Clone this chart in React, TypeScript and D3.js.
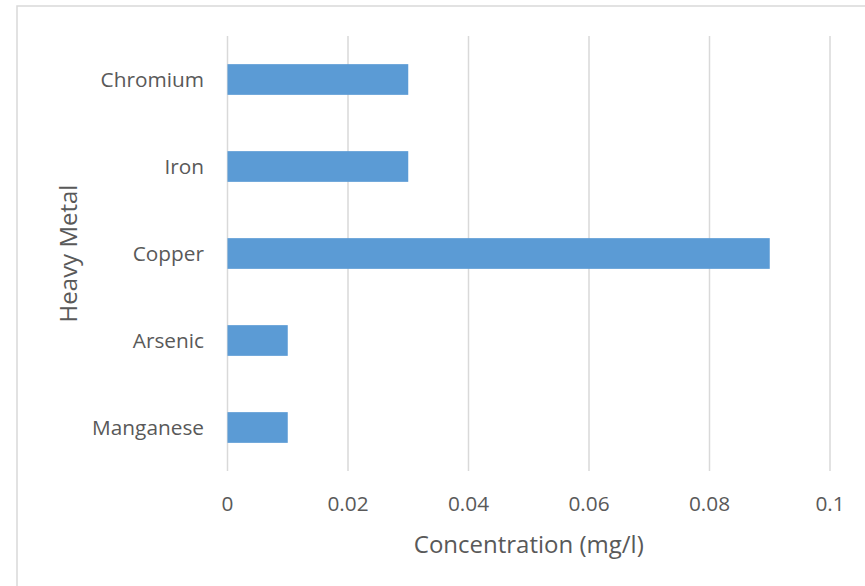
import React from "react";
import * as d3 from "d3";

const categories = ["Chromium", "Iron", "Copper", "Arsenic", "Manganese"];
const values = [0.03, 0.03, 0.09, 0.01, 0.01];
const tickValues = [0, 0.02, 0.04, 0.06, 0.08, 0.1];
const tickLabels = ["0", "0.02", "0.04", "0.06", "0.08", "0.1"];
const xTitle = "Concentration (mg/l)";
const yTitle = "Heavy Metal";

const W = 865;
const H = 586;
const plotLeft = 227.5;
const plotRight = 830;
const plotTop = 36;
const plotBottom = 471;
const FONT = "'Open Sans', 'DejaVu Sans', sans-serif";
const TEXT = "#595959";
const GRID = "#d9d9d9";
const BAR = "#5b9bd5";

export default function App() {
  const x = d3.scaleLinear().domain([0, 0.1]).range([plotLeft, plotRight]);
  const y = d3
    .scaleBand<string>()
    .domain(categories)
    .range([plotTop, plotBottom])
    .paddingInner(0.647)
    .paddingOuter(0.3235);
  const bw = y.bandwidth();

  return (
    <svg
      width={W}
      height={H}
      style={{ position: "absolute", left: 0, top: 0, background: "#fff" }}
      fontFamily={FONT}
    >
      <rect x={0} y={0} width={W} height={H} fill="#fff" />
      <rect x={17} y={6} width={W + 20} height={H + 20} fill="none" stroke={GRID} strokeWidth={1.5} />
      {tickValues.map((t, i) => (
        <g key={i}>
          <line x1={x(t)} x2={x(t)} y1={plotTop} y2={plotBottom} stroke={GRID} strokeWidth={1.5} />
          <text x={x(t)} y={511} textAnchor="middle" fontSize={20.8} fill={TEXT}>
            {tickLabels[i]}
          </text>
        </g>
      ))}
      {categories.map((c, i) => (
        <g key={c}>
          <rect x={x(0)} y={y(c)!} width={x(values[i]) - x(0)} height={bw} fill={BAR} />
          <text
            x={204}
            y={y(c)! + bw / 2}
            dy="0.35em"
            textAnchor="end"
            fontSize={20.8}
            fill={TEXT}
          >
            {c}
          </text>
        </g>
      ))}
      <text x={(plotLeft + plotRight) / 2} y={553} textAnchor="middle" fontSize={24} fill={TEXT}>
        {xTitle}
      </text>
      <text
        transform={`translate(77, ${(plotTop + plotBottom) / 2}) rotate(-90)`}
        textAnchor="middle"
        fontSize={24}
        fill={TEXT}
      >
        {yTitle}
      </text>
    </svg>
  );
}
